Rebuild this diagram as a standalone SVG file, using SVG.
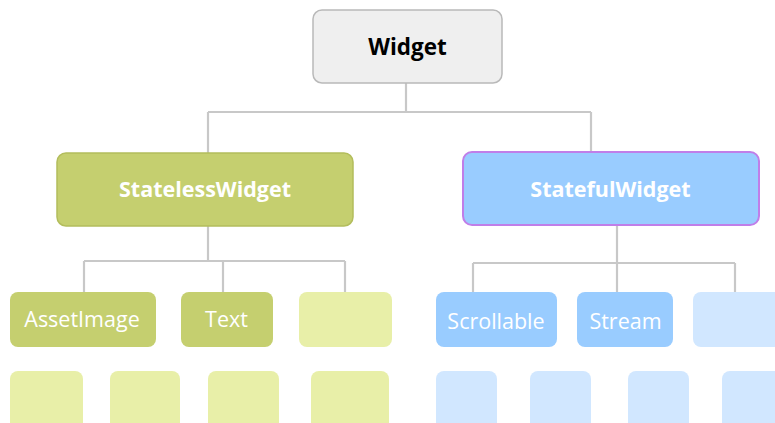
<svg xmlns="http://www.w3.org/2000/svg" width="775" height="423" viewBox="0 0 775 423">
  <style>
    .link { fill: none; stroke: #c8c8c8; stroke-width: 2.2; }
    .root { fill: #efefef; stroke: #b9b9b9; stroke-width: 1.5; }
    .sl { fill: #c5cf6f; stroke: #b3bd5c; stroke-width: 1.5; }
    .sf { fill: #99ccff; stroke: #c07ee8; stroke-width: 2; }
    .g2 { fill: #c5cf6f; }
    .g3 { fill: #e8efa8; }
    .b2 { fill: #99ccff; }
    .b3 { fill: #d1e7ff; }
    .bold { font-family: "Open Sans", "Noto Sans", sans-serif; font-weight: bold; font-size: 21.5px; text-anchor: middle; }
    .big { font-size: 22.5px; }
    .reg { font-family: "Open Sans", "Noto Sans", sans-serif; font-size: 21.5px; text-anchor: middle; fill: #ffffff; }
  </style>

  <!-- tree connectors -->
  <g id="connectors">
    <path class="link" d="M406 83 V112 M208 112 H591 M208 112 V153 M591 112 V152"/>
    <path class="link" d="M208 226 V261 M84 261 H345 M84 261 V292 M223 261 V292 M345 261 V292"/>
    <path class="link" d="M617 225 V263 M473 263 H735 M473 263 V292 M617 263 V292 M735 263 V292"/>
  </g>

  <!-- root -->
  <g id="widget">
    <rect class="root" x="313" y="10" width="189" height="73" rx="9"/>
    <text class="bold big" x="407.5" y="54.5" fill="#000000">Widget</text>
  </g>

  <!-- second level -->
  <g id="stateless-widget">
    <rect class="sl" x="57" y="153" width="296" height="73" rx="9"/>
    <text class="bold" x="205" y="197" fill="#ffffff">StatelessWidget</text>
  </g>
  <g id="stateful-widget">
    <rect class="sf" x="463" y="152" width="296" height="73" rx="9"/>
    <text class="bold" x="610.5" y="196.5" fill="#ffffff">StatefulWidget</text>
  </g>

  <!-- stateless children -->
  <g id="asset-image">
    <rect class="g2" x="10" y="292" width="146" height="55" rx="8"/>
    <text class="reg" x="82" y="327">AssetImage</text>
  </g>
  <g id="text">
    <rect class="g2" x="181" y="292" width="92" height="55" rx="8"/>
    <text class="reg" x="226.5" y="327">Text</text>
  </g>
  <g id="stateless-more">
    <rect class="g3" x="299" y="292" width="93" height="55" rx="8"/>
  </g>

  <!-- stateful children -->
  <g id="scrollable">
    <rect class="b2" x="436" y="292" width="121" height="55" rx="8"/>
    <text class="reg" x="496" y="328.5">Scrollable</text>
  </g>
  <g id="stream">
    <rect class="b2" x="577" y="292" width="96" height="55" rx="8"/>
    <text class="reg" x="625.5" y="328.5">Stream</text>
  </g>
  <g id="stateful-more">
    <rect class="b3" x="693" y="292" width="100" height="55" rx="8"/>
  </g>

  <!-- faded bottom row -->
  <g id="row3-green-1"><rect class="g3" x="10" y="371" width="73" height="70" rx="8"/></g>
  <g id="row3-green-2"><rect class="g3" x="110" y="371" width="70" height="70" rx="8"/></g>
  <g id="row3-green-3"><rect class="g3" x="208" y="371" width="71" height="70" rx="8"/></g>
  <g id="row3-green-4"><rect class="g3" x="311" y="371" width="78" height="70" rx="8"/></g>
  <g id="row3-blue-1"><rect class="b3" x="436" y="371" width="61" height="70" rx="8"/></g>
  <g id="row3-blue-2"><rect class="b3" x="530" y="371" width="61" height="70" rx="8"/></g>
  <g id="row3-blue-3"><rect class="b3" x="628" y="371" width="61" height="70" rx="8"/></g>
  <g id="row3-blue-4"><rect class="b3" x="722" y="371" width="80" height="70" rx="8"/></g>
</svg>
